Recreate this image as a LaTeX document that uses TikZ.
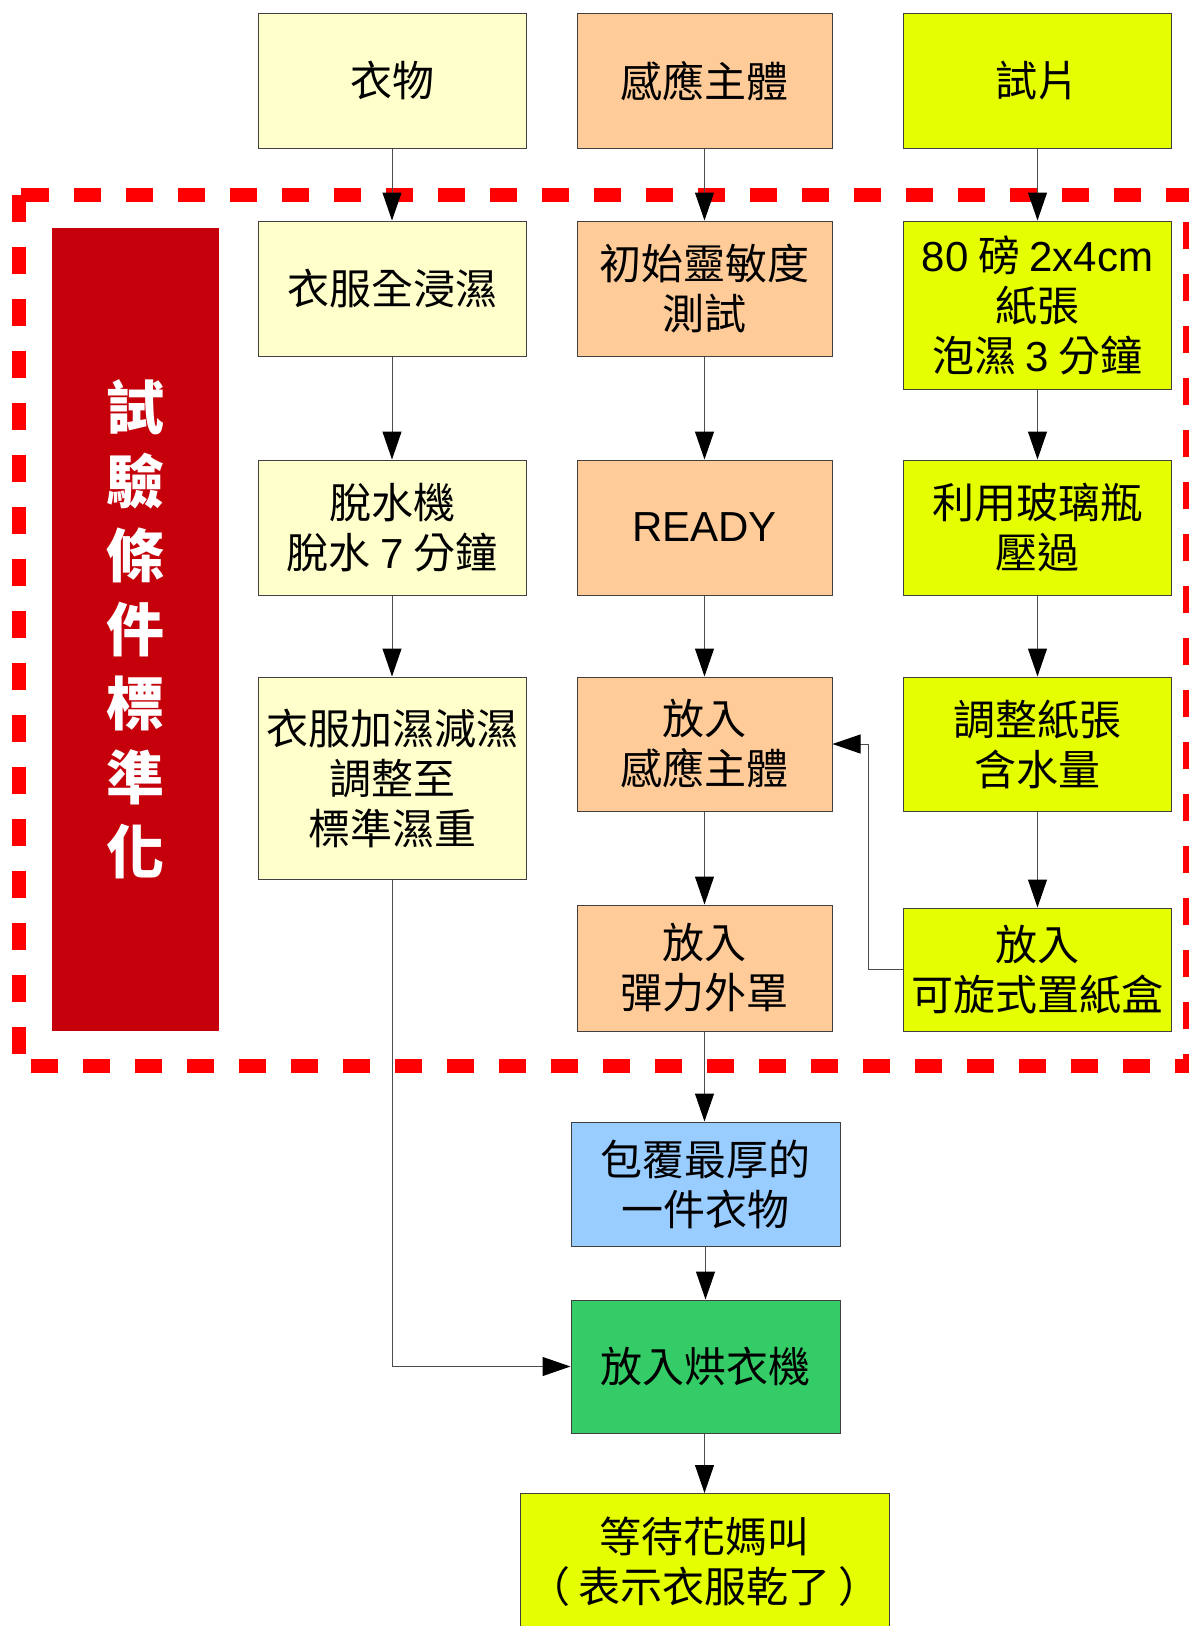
\documentclass[tikz,border=0pt]{standalone}
\usepackage{fontspec}
\setmainfont{Noto Sans CJK TC}
\newfontfamily\latfont{Liberation Sans}
\newcommand\LS[1]{{\latfont #1}}
\usetikzlibrary{arrows.meta}
\definecolor{cream}{HTML}{FFFFCC}
\definecolor{peach}{HTML}{FFCC99}
\definecolor{limey}{HTML}{E6FF00}
\definecolor{sky}{HTML}{99CCFF}
\definecolor{grn}{HTML}{33CC66}
\definecolor{crimson}{HTML}{C5000B}
\definecolor{dashred}{HTML}{FF0000}
\begin{document}
\begin{tikzpicture}[x=1pt,y=-1pt,
  box/.style={draw=black!75, line width=1pt, rectangle, inner sep=0pt, align=center,
    font=\fontsize{42}{50}\selectfont},
  arr/.style={draw=black!70, line width=1pt, -{Triangle[length=28pt,width=19pt,color=black]}},
  frame/.style={draw=dashred, line width=14pt, dash pattern=on 27pt off 25pt, line join=round}
]
\useasboundingbox (0,0) rectangle (1189,1626);
% dashed frame
\draw[frame] (18.5,194.5) rectangle (1190,1066);
% red title box
\node[fill=crimson, inner sep=0pt, minimum width=167pt, minimum height=803pt, text=white,
  align=center, font=\fontsize{58}{74}\selectfont\bfseries] (title) at (135.5,629.5)
  {試\\驗\\條\\件\\標\\準\\化};
% left column
\node[box, fill=cream, minimum width=268pt, minimum height=134.5pt] (l1) at (392,80.75) {衣物};
\node[box, fill=cream, minimum width=268pt, minimum height=135pt] (l2) at (392,288.5) {衣服全浸濕};
\node[box, fill=cream, minimum width=268pt, minimum height=135pt] (l3) at (392,527.5) {脫水機\\脫水~\LS{7}~分鐘};
\node[box, fill=cream, minimum width=268pt, minimum height=202pt] (l4) at (392,778) {衣服加濕減濕\\調整至\\標準濕重};
% middle column
\node[box, fill=peach, minimum width=255pt, minimum height=134.5pt] (m1) at (704.5,80.75) {感應主體};
\node[box, fill=peach, minimum width=255pt, minimum height=135pt] (m2) at (704.5,288.5) {初始靈敏度\\測試};
\node[box, fill=peach, minimum width=255pt, minimum height=135pt] (m3) at (704.5,527.5) {\LS{READY}};
\node[box, fill=peach, minimum width=255pt, minimum height=134pt] (m4) at (704.5,744) {放入\\感應主體};
\node[box, fill=peach, minimum width=255pt, minimum height=126pt] (m5) at (704.5,968) {放入\\彈力外罩};
% right column
\node[box, fill=limey, minimum width=268pt, minimum height=134.5pt] (r1) at (1037.5,80.75) {試片};
\node[box, fill=limey, minimum width=268pt, minimum height=168pt] (r2) at (1037.5,305) {\LS{80}~磅~\LS{2x4cm}\\紙張\\泡濕~\LS{3}~分鐘};
\node[box, fill=limey, minimum width=268pt, minimum height=135pt] (r3) at (1037.5,527.5) {利用玻璃瓶\\壓過};
\node[box, fill=limey, minimum width=268pt, minimum height=134pt] (r4) at (1037.5,744) {調整紙張\\含水量};
\node[box, fill=limey, minimum width=268pt, minimum height=123pt] (r5) at (1037.5,969.5) {放入\\可旋式置紙盒};
% bottom
\node[box, fill=sky, minimum width=269pt, minimum height=124pt] (wrap) at (705.5,1184) {包覆最厚的\\一件衣物};
\node[box, fill=grn, minimum width=269pt, minimum height=133pt] (dry) at (705.5,1366.5) {放入烘衣機};
\node[box, fill=limey, minimum width=369pt, minimum height=136pt] (wait) at (704.5,1561.5) {等待花媽叫\\（\hspace{8pt}表示衣服乾了\hspace{8pt}）};
% connectors
\draw[arr] (l1) -- (l2);
\draw[arr] (l2) -- (l3);
\draw[arr] (l3) -- (l4);
\draw[arr] (l4.south) |- (dry.west);
\draw[arr] (m1) -- (m2);
\draw[arr] (m2) -- (m3);
\draw[arr] (m3) -- (m4);
\draw[arr] (m4) -- (m5);
\draw[arr] (m5.south) -- (m5.south |- wrap.north);
\draw[arr] (wrap.south -| dry.north) -- (dry.north);
\draw[arr] (dry.south -| wait.north) -- (wait.north);
\draw[arr] (r1) -- (r2);
\draw[arr] (r2) -- (r3);
\draw[arr] (r3) -- (r4);
\draw[arr] (r4) -- (r5);
\draw[arr] (r5.west) -- ++(-35,0) |- (m4.east);
\end{tikzpicture}
\end{document}
